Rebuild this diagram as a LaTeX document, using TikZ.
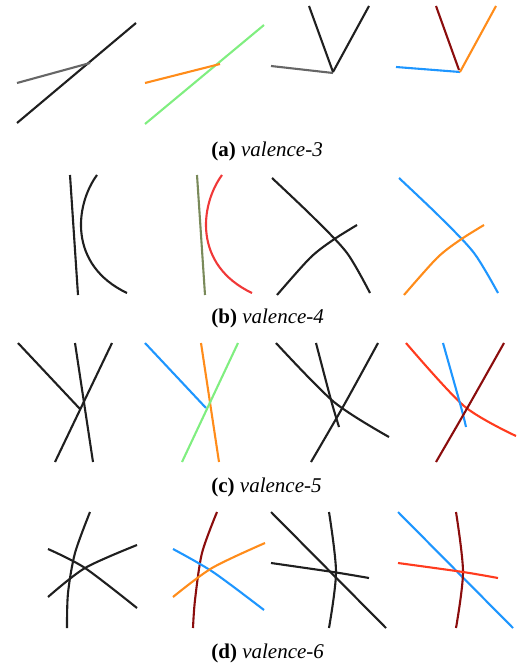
\documentclass[tikz,border=0pt]{standalone}
\usepackage{fontspec}
\setmainfont{Liberation Serif}
\definecolor{cgreen}{HTML}{80EE80}
\definecolor{corange}{HTML}{FF8C1A}
\definecolor{cblue}{HTML}{1E96FF}
\definecolor{cdarkred}{HTML}{8B0D0D}
\definecolor{colive}{HTML}{7A8A5A}
\definecolor{cred}{HTML}{F03838}
\definecolor{credor}{HTML}{FF3B1E}
\begin{document}
\begin{tikzpicture}[x=0.5pt,y=-0.5pt,
  stroke/.style={line width=1.05pt,line cap=butt,line join=round},
  blk/.style={stroke,draw=black!88},
  gry/.style={stroke,draw=black!60},
  captxt/.style={font=\fontsize{10.5}{12}\selectfont,anchor=base west,inner sep=0pt}]
\useasboundingbox (0,0) rectangle (516,668);
% ---------- (a) valence-3 ----------
\draw[blk] (17,123) -- (136,23);
\draw[gry] (17,83) -- (90,63);
\draw[stroke,draw=cgreen] (145,124) -- (264,25);
\draw[stroke,draw=corange] (145,83) -- (220,64);
\draw[gry] (271,66) -- (333,73);
\draw[blk] (309,6) -- (333,72);
\draw[blk] (369,6) -- (333,72);
\draw[stroke,draw=cblue] (396,67) -- (460,72);
\draw[stroke,draw=cdarkred] (436,6) -- (459,70);
\draw[stroke,draw=corange] (496,6) -- (460,72);
\node[captxt] (capa) at (211,157) {\textbf{(a)} \textit{valence-3}};
% ---------- (b) valence-4 ----------
\draw[blk] (70,175) -- (78,295);
\draw[blk] (97,175) .. controls (75,205) and (68,265) .. (127,293);
\draw[stroke,draw=colive] (197,175) -- (205,295);
\draw[stroke,draw=cred] (222,175) .. controls (200,205) and (193,265) .. (252,293);
\draw[blk] plot[smooth] coordinates {(272,178) (313,217) (347,253) (370,293)};
\draw[blk] plot[smooth] coordinates {(277,295) (310,258) (333,240) (357,225)};
\draw[stroke,draw=cblue] plot[smooth] coordinates {(399,178) (440,217) (474,253) (498,293)};
\draw[stroke,draw=corange] plot[smooth] coordinates {(404,295) (437,258) (460,240) (484,225)};
\node[captxt] (capb) at (211,323) {\textbf{(b)} \textit{valence-4}};
% ---------- (c) valence-5 ----------
\draw[blk] (18,343) -- (80,409);
\draw[blk] (75,343) -- (93,462);
\draw[blk] (112,343) -- (55,462);
\draw[stroke,draw=cblue] (145,343) -- (206,408);
\draw[stroke,draw=corange] (201,343) -- (219,462);
\draw[stroke,draw=cgreen] (238,343) -- (182,462);
\draw[blk] plot[smooth] coordinates {(276,343) (334,402) (389,437)};
\draw[blk] plot[smooth] coordinates {(316,343) (331,400) (339,427)};
\draw[blk] plot[smooth] coordinates {(378,343) (344,405) (311,462)};
\draw[stroke,draw=credor] plot[smooth] coordinates {(406,343) (464,406) (516,436)};
\draw[stroke,draw=cblue] plot[smooth] coordinates {(443,343) (461,407) (466,427)};
\draw[stroke,draw=cdarkred] plot[smooth] coordinates {(504,343) (469,405) (436,462)};
\node[captxt] (capc) at (211,492) {\textbf{(c)} \textit{valence-5}};
% ---------- (d) valence-6 ----------
\draw[blk] plot[smooth] coordinates {(90,512) (75,553) (68,593) (67,628)};
\draw[blk] plot[smooth] coordinates {(48,549) (85,568) (137,608)};
\draw[blk] plot[smooth] coordinates {(48,597) (85,568) (137,545)};
\draw[stroke,draw=cdarkred] plot[smooth] coordinates {(217,512) (202,553) (195,600) (193,628)};
\draw[stroke,draw=cblue] plot[smooth] coordinates {(173,549) (213,572) (264,610)};
\draw[stroke,draw=corange] plot[smooth] coordinates {(173,597) (212,568) (265,543)};
\draw[blk] (271,512) -- (386,628);
\draw[blk] plot[smooth] coordinates {(329,512) (336,572) (329,628)};
\draw[blk] plot[smooth] coordinates {(271,563) (333,572) (369,578)};
\draw[stroke,draw=cblue] (398,512) -- (513,628);
\draw[stroke,draw=cdarkred] plot[smooth] coordinates {(456,512) (463,572) (456,628)};
\draw[stroke,draw=credor] plot[smooth] coordinates {(398,563) (463,572) (498,578)};
\node[captxt] (capd) at (211,658) {\textbf{(d)} \textit{valence-6}};
\end{tikzpicture}
\end{document}
